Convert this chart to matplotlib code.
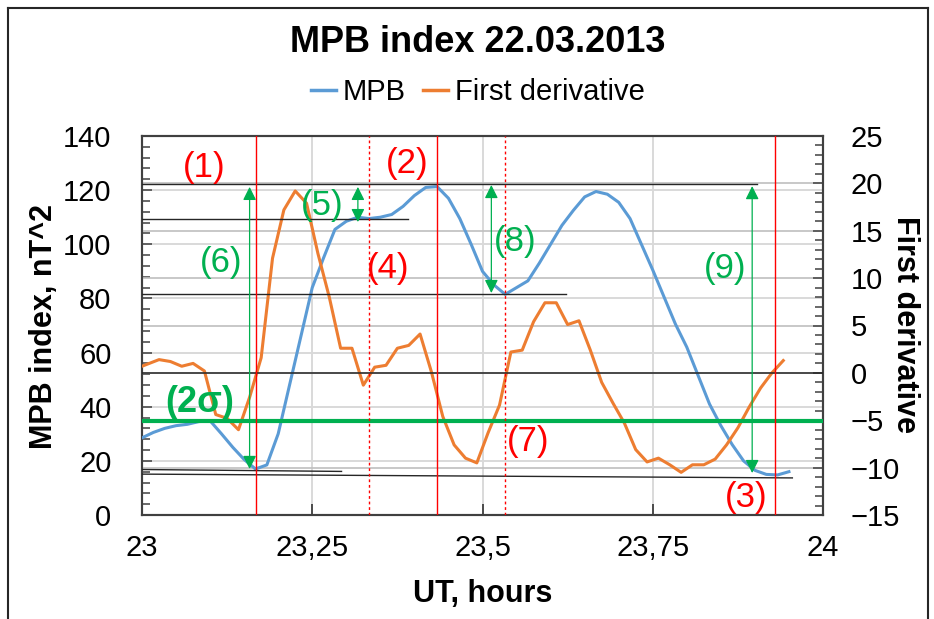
import numpy as np
import matplotlib
matplotlib.use("Agg")
import matplotlib.pyplot as plt
from matplotlib.lines import Line2D
from matplotlib.ticker import MultipleLocator

plt.rcParams['font.family'] = ['Liberation Sans', 'DejaVu Sans']

# MPB index, one value per minute after 23 UT
mpb_min = [0, 1, 2, 3, 4, 5, 6, 7, 8, 9, 10, 11, 12, 13, 14, 15, 16, 17, 18, 19,
           20, 21, 22, 23, 24, 25, 26, 27, 28, 29, 30, 31, 32, 33, 34, 35, 36, 37, 38, 39,
           40, 41, 42, 43, 44, 45, 46, 47, 48, 49, 50, 51, 52, 53, 54, 55, 56, 57]
mpb_val = [28.5, 30.5, 32, 33, 33.5, 34.5, 34.8, 30, 25, 20.5, 17, 18.5, 30, 48, 66, 84, 95, 105.5, 108.5, 110,
           109.5, 110, 111, 114, 118, 121, 121.3, 117, 109.5, 100, 90, 85, 81.5, 84, 86.5, 93, 100, 107, 112.5, 117.5,
           119.5, 118.5, 115.5, 109.5, 100, 90.5, 80.5, 70.5, 62, 51.5, 41, 33, 26, 20, 16.5, 15, 14.8, 16]

# first derivative, between samples
der_min = [0, 1.5, 2.5, 3.5, 4.5, 5.5, 6.5, 7.5, 8.5, 9.5, 10.5, 11.5, 12.5, 13.5, 14.5, 15.5, 16.5, 17.5, 18.5, 19.5,
           20.5, 21.5, 22.5, 23.5, 24.5, 25.5, 26.5, 27.5, 28.5, 29.5, 30.5, 31.5, 32.5, 33.5, 34.5, 35.5, 36.5, 37.5, 38.5, 39.5,
           40.5, 41.5, 42.5, 43.5, 44.5, 45.5, 46.5, 47.5, 48.5, 49.5, 50.5, 51.5, 52.5, 53.5, 54.5, 55.5, 56.5]
der_val = [0.7, 1.4, 1.2, 0.7, 1.0, 0.2, -4.4, -4.8, -6.0, -2.5, 1.6, 12.1, 17.2, 19.2, 17.9, 12.6, 8.0, 2.6, 2.6, -1.3,
           0.6, 0.8, 2.6, 2.9, 4.1, 0.1, -4.6, -7.6, -9.0, -9.5, -6.3, -3.4, 2.2, 2.4, 5.4, 7.4, 7.4, 5.1, 5.5, 2.4,
           -1.0, -3.2, -5.3, -8.1, -9.4, -9.0, -9.7, -10.5, -9.7, -9.7, -9.1, -7.6, -5.8, -3.6, -1.6, 0.0, 1.3]

xticks = [23, 23.25, 23.5, 23.75, 24]
xtick_labels = ['23', '23,25', '23,5', '23,75', '24']

# event markers (hours)
red_solid = [23.167, 23.433, 23.930]
red_dotted = [23.333, 23.533]

sigma2_level = 34.7  # MPB units

# reference levels drawn as thin black lines: (x0, x1, y0, y1) in MPB units
level_lines = [(23.0, 23.903, 122.3, 122.3),
               (23.0, 23.390, 109.2, 109.2),
               (23.0, 23.623, 81.8, 81.8),
               (23.0, 23.293, 16.8, 16.1),
               (23.0, 23.955, 15.1, 13.7)]

# green double arrows: x, y_bottom, y_top (MPB units)
arrows = [(23.158, 17.0, 121.2),
          (23.317, 108.2, 121.2),
          (23.513, 82.0, 121.9),
          (23.896, 15.5, 121.5)]

red_labels = [('(1)', 23.091, 128.2), ('(2)', 23.389, 129.7), ('(4)', 23.361, 91.2),
              ('(7)', 23.567, 27.3), ('(3)', 23.887, 6.6)]
green_labels = [('(5)', 23.265, 114.5), ('(6)', 23.116, 93.1), ('(8)', 23.548, 101.2),
                ('(9)', 23.856, 91.2)]

blue = '#5B9BD5'
orange = '#ED7D31'
green = '#00B050'

fig = plt.figure(figsize=(9.34, 6.19), dpi=100)
ax = fig.add_axes([142/934, 1 - 515/619, (823-142)/934, (515-136)/619])
ax2 = ax.twinx()

ut_mpb = 23 + np.array(mpb_min) / 60.0
ut_der = 23 + np.array(der_min) / 60.0

# grids
ax.set_axisbelow(True)
ax.yaxis.set_major_locator(MultipleLocator(20))
ax.yaxis.set_minor_locator(MultipleLocator(4))
ax.grid(axis='y', color='#d9d9d9', lw=1.4)
ax.set_xticks(xticks)
ax.set_xticklabels(xtick_labels)
ax.grid(axis='x', color='#d9d9d9', lw=1.4)
ax2.set_axisbelow(True)
ax2.yaxis.set_major_locator(MultipleLocator(5))
ax2.yaxis.set_minor_locator(MultipleLocator(1))
ax2.grid(axis='y', color='#bfbfbf', lw=1.2)

# data lines (both on ax2 so they sit above every grid)
ax2.plot(ut_mpb, mpb_val, color=blue, lw=2.2, transform=ax.transData, zorder=3)
ax2.plot(ut_der, der_val, color=orange, lw=2.2, zorder=3)

# annotations
ax2.axhline(0, color='#262626', lw=1.1, zorder=4)
for x0, x1, y0, y1 in level_lines:
    ax2.plot([x0, x1], [y0, y1], color='#262626', lw=1.0, transform=ax.transData, zorder=4)
ax2.plot([23, 24], [sigma2_level, sigma2_level], color=green, lw=3, transform=ax.transData, zorder=5)
for x in red_solid:
    ax2.axvline(x, color='red', lw=1.0, zorder=5)
for x in red_dotted:
    ax2.axvline(x, color='red', lw=1.0, ls=(0, (2, 2)), zorder=5)
for x, y0, y1 in arrows:
    ax2.annotate('', xy=(x, y1), xytext=(x, y0), xycoords=ax.transData, textcoords=ax.transData,
                 arrowprops=dict(arrowstyle='<|-|>', color=green, lw=0.9, mutation_scale=20,
                                 shrinkA=0, shrinkB=0), zorder=6)
for s, x, y in red_labels:
    ax2.text(x, y, s, color='red', fontsize=25, ha='center', va='center', transform=ax.transData, zorder=7)
for s, x, y in green_labels:
    ax2.text(x, y, s, color=green, fontsize=25, ha='center', va='center', transform=ax.transData, zorder=7)
ax2.text(23.085, 41.7, '(2σ)', color=green, fontsize=26, fontweight='bold', ha='center', va='center',
         transform=ax.transData, zorder=7)

# axes
ax.set_xlim(23, 24)
ax.set_ylim(0, 140)
ax2.set_ylim(-15, 25)
for a in (ax, ax2):
    for sp in a.spines.values():
        sp.set_color('#404040')
        sp.set_linewidth(1.5)
ax.tick_params(axis='x', direction='in', length=8, width=1.3, colors='#404040', labelcolor='black',
               labelsize=21, pad=14, top=False)
ax.tick_params(axis='y', which='both', direction='in', width=1.1, colors='#404040', labelcolor='black',
               labelsize=21, pad=22)
ax.tick_params(axis='y', which='major', length=7)
ax.tick_params(axis='y', which='minor', length=6)
ax2.tick_params(axis='y', which='both', direction='in', width=1.1, colors='#404040', labelcolor='black',
                labelsize=21, pad=20)
ax2.tick_params(axis='y', which='major', length=7)
ax2.tick_params(axis='y', which='minor', length=6)

ax.set_xlabel('UT, hours', fontsize=22, fontweight='bold', labelpad=12)
fig.text(44/934, 1 - 326/619, 'MPB index, nT^2', fontsize=22, fontweight='bold', rotation=90,
         ha='center', va='center')
fig.text(905/934, 1 - 325/619, 'First derivative', fontsize=22, fontweight='bold', rotation=270,
         ha='center', va='center')

fig.suptitle('MPB index 22.03.2013', x=478/934, y=1 - 42/619, va='center', fontsize=26, fontweight='bold')
handles = [Line2D([], [], color=blue, lw=2.5), Line2D([], [], color=orange, lw=2.5)]
fig.legend(handles, ['MPB', 'First derivative'], loc='center', bbox_to_anchor=(478/934, 1 - 92/619),
           ncol=2, frameon=False, fontsize=21, handlelength=0.85, handletextpad=0.25, columnspacing=0.6)

# outer frame
fig.add_artist(Line2D([8/934, 8/934], [0, 1 - 8/619], color='#262626', lw=1.5))
fig.add_artist(Line2D([8/934, 928/934], [1 - 8/619, 1 - 8/619], color='#262626', lw=1.5))
fig.add_artist(Line2D([928/934, 928/934], [0, 1 - 8/619], color='#262626', lw=1.5))

fig.savefig('out.png', dpi=100)
